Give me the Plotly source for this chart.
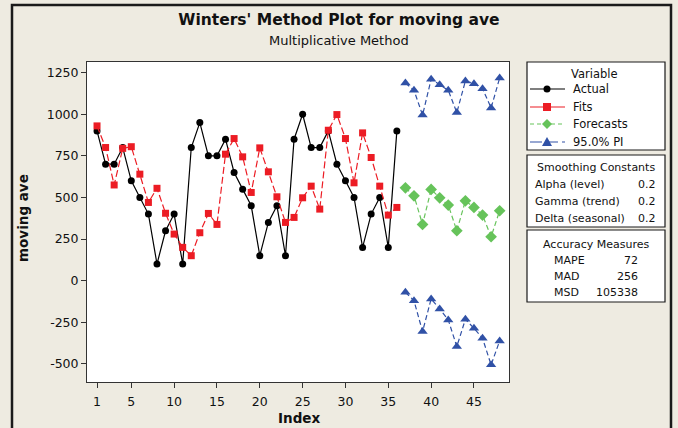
import plotly.graph_objects as go

# ---------------- data ----------------
fit_index = list(range(1, 37))
actual = [900, 700, 700, 800, 600, 500, 400, 100, 300, 400, 100, 800, 950, 750, 750,
          850, 650, 550, 450, 150, 350, 450, 150, 850, 1000, 800, 800, 900, 700, 600,
          500, 200, 400, 500, 200, 900]
fits = [930, 800, 575, 795, 805, 640, 470, 555, 405, 280, 200, 150, 288, 404, 338,
        760, 854, 744, 530, 798, 654, 504, 350, 380, 498, 568, 430, 904, 998, 854,
        588, 888, 740, 568, 394, 440]
fc_index = list(range(37, 49))
forecasts = [558, 510, 338, 548, 498, 454, 300, 480, 440, 394, 264, 420]
upper_pi = [1188, 1144, 995, 1210, 1178, 1144, 1010, 1200, 1184, 1154, 1038, 1218]
lower_pi = [-70, -120, -306, -110, -170, -236, -396, -232, -286, -346, -506, -362]

x_ticks = [1, 5, 10, 15, 20, 25, 30, 35, 40, 45]
y_ticks = [-500, -250, 0, 250, 500, 750, 1000, 1250]

legend_names = ["Actual", "Fits", "Forecasts", "95.0% PI"]
smoothing = [("Alpha (level)", "0.2"), ("Gamma (trend)", "0.2"), ("Delta (seasonal)", "0.2")]
accuracy = [("MAPE", "72"), ("MAD", "256"), ("MSD", "105338")]

# ---------------- style ----------------
FONT = "DejaVu Sans"
BG = "#EEEBE1"
RED = "#EC1C24"
GREEN = "#66C35A"
BLUE = "#3051A6"
TXT = "#111"

W_FIG, H_FIG = 678, 428
L, R, T, B = 87, 509, 62, 382
PW, PH = R - L, B - T


def px(x):
    return (x - L) / PW


def py(y):
    return (B - y) / PH


fig = go.Figure()
fig.add_trace(go.Scatter(x=fit_index, y=actual, name="Actual", mode="lines+markers",
                         line=dict(color="black", width=1.2),
                         marker=dict(symbol="circle", size=7, color="black")))
fig.add_trace(go.Scatter(x=fit_index, y=fits, name="Fits", mode="lines+markers",
                         line=dict(color=RED, width=1.2, dash="7px,3px"),
                         marker=dict(symbol="square", size=7, color=RED)))
fig.add_trace(go.Scatter(x=fc_index, y=forecasts, name="Forecasts", mode="lines+markers",
                         line=dict(color=GREEN, width=1.2, dash="5px,3px"),
                         marker=dict(symbol="diamond", size=9, color=GREEN)))
fig.add_trace(go.Scatter(x=fc_index, y=upper_pi, name="95.0% PI", mode="lines+markers",
                         legendgroup="pi",
                         line=dict(color=BLUE, width=1.2, dash="5px,3px"),
                         marker=dict(symbol="triangle-up", size=9, color=BLUE)))
fig.add_trace(go.Scatter(x=fc_index, y=lower_pi, name="95.0% PI", mode="lines+markers",
                         legendgroup="pi",
                         line=dict(color=BLUE, width=1.2, dash="5px,3px"),
                         marker=dict(symbol="triangle-up", size=9, color=BLUE)))

shapes = []
# outer frame
shapes.append(dict(type="rect", xref="paper", yref="paper",
                   x0=px(12), x1=px(671), y0=py(445), y1=py(5),
                   line=dict(color="#1a1a1a", width=2.5), fillcolor="rgba(0,0,0,0)", layer="below"))
# info boxes
for (y0, y1) in [(62, 150), (155, 227), (230, 302)]:
    shapes.append(dict(type="rect", xref="paper", yref="paper",
                       x0=px(527), x1=px(665), y0=py(y1), y1=py(y0),
                       line=dict(color="#1a1a1a", width=1.2), fillcolor="white", layer="below"))


def path_of(points):
    return "M " + " L ".join(f"{px(a):.5f},{py(b):.5f}" for a, b in points) + " Z"


# manual legend ("Variable" box)
leg_rows = [89, 107, 124, 142]
leg_styles = [("black", "solid", "circle"), (RED, "solid", "square"),
              (GREEN, "4px,3px", "diamond"), (BLUE, "12px,4px", "triangle")]
annotations = []
annotations.append(dict(text="Variable", xref="paper", yref="paper",
                        x=px(594), y=py(74), showarrow=False, xanchor="center", yanchor="middle",
                        font=dict(family=FONT, size=11.5, color=TXT)))
for yy, name, (col, dash, sym) in zip(leg_rows, legend_names, leg_styles):
    shapes.append(dict(type="line", xref="paper", yref="paper",
                       x0=px(530), x1=px(565), y0=py(yy), y1=py(yy),
                       line=dict(color=col, width=1.2, dash=dash)))
    cx = 547
    if sym == "circle":
        shapes.append(dict(type="circle", xref="paper", yref="paper",
                           x0=px(cx - 3.5), x1=px(cx + 3.5), y0=py(yy + 3.5), y1=py(yy - 3.5),
                           fillcolor=col, line=dict(color=col, width=0)))
    elif sym == "square":
        shapes.append(dict(type="rect", xref="paper", yref="paper",
                           x0=px(cx - 4), x1=px(cx + 4), y0=py(yy + 4), y1=py(yy - 4),
                           fillcolor=col, line=dict(color=col, width=0)))
    elif sym == "diamond":
        shapes.append(dict(type="path", xref="paper", yref="paper",
                           path=path_of([(cx, yy - 5), (cx + 5, yy), (cx, yy + 5), (cx - 5, yy)]),
                           fillcolor=col, line=dict(color=col, width=0)))
    else:
        shapes.append(dict(type="path", xref="paper", yref="paper",
                           path=path_of([(cx, yy - 5), (cx + 5, yy + 4), (cx - 5, yy + 4)]),
                           fillcolor=col, line=dict(color=col, width=0)))
    annotations.append(dict(text=name, xref="paper", yref="paper", x=px(571), y=py(yy),
                            showarrow=False, xanchor="left", yanchor="middle",
                            font=dict(family=FONT, size=11.5, color=TXT)))

annotations.append(dict(text="Multiplicative Method", xref="paper", yref="paper",
                        x=px(339), y=py(41), showarrow=False, xanchor="center", yanchor="middle",
                        font=dict(family=FONT, size=13, color=TXT)))
annotations.append(dict(text="Smoothing Constants", xref="paper", yref="paper",
                        x=px(596), y=py(167), showarrow=False, xanchor="center", yanchor="middle",
                        font=dict(family=FONT, size=11, color=TXT)))
for i, (lab, val) in enumerate(smoothing):
    yy = [184, 201, 218][i]
    annotations.append(dict(text=lab, xref="paper", yref="paper", x=px(533), y=py(yy),
                            showarrow=False, xanchor="left", yanchor="middle",
                            font=dict(family=FONT, size=11, color=TXT)))
    annotations.append(dict(text=val, xref="paper", yref="paper", x=px(658), y=py(yy),
                            showarrow=False, xanchor="right", yanchor="middle",
                            font=dict(family=FONT, size=11, color=TXT)))
annotations.append(dict(text="Accuracy Measures", xref="paper", yref="paper",
                        x=px(596), y=py(244), showarrow=False, xanchor="center", yanchor="middle",
                        font=dict(family=FONT, size=11, color=TXT)))
for i, (lab, val) in enumerate(accuracy):
    yy = [260, 276, 292][i]
    annotations.append(dict(text=lab, xref="paper", yref="paper", x=px(552), y=py(yy),
                            showarrow=False, xanchor="left", yanchor="middle",
                            font=dict(family=FONT, size=11, color=TXT)))
    annotations.append(dict(text=val, xref="paper", yref="paper", x=px(640), y=py(yy),
                            showarrow=False, xanchor="right", yanchor="middle",
                            font=dict(family=FONT, size=11, color=TXT)))

# axis titles as annotations for exact placement
annotations.append(dict(text="<b>Index</b>", xref="paper", yref="paper",
                        x=px(299), y=py(418), showarrow=False, xanchor="center", yanchor="middle",
                        font=dict(family=FONT, size=13.5, color=TXT)))
annotations.append(dict(text="<b>moving ave</b>", xref="paper", yref="paper",
                        x=px(23), y=py(218), showarrow=False, xanchor="center", yanchor="middle",
                        textangle=-90, font=dict(family=FONT, size=13.5, color=TXT)))

fig.update_layout(
    width=W_FIG, height=H_FIG,
    margin=dict(l=L, r=W_FIG - R, t=T, b=H_FIG - B, pad=0, autoexpand=False),
    paper_bgcolor=BG, plot_bgcolor="white",
    font=dict(family=FONT, size=12, color=TXT),
    showlegend=False,
    title=dict(text="<b>Winters' Method Plot for moving ave</b>",
               x=0.5, xref="container", xanchor="center",
               y=1 - 20 / H_FIG, yref="container", yanchor="middle",
               font=dict(family=FONT, size=15.5, color=TXT)),
    xaxis=dict(range=[-0.17, 49.09], tickmode="array", tickvals=x_ticks,
               ticktext=[str(v) for v in x_ticks], automargin=False,
               showgrid=False, zeroline=False, showline=True, linecolor="#333", linewidth=1,
               mirror=True, ticks="outside", ticklen=5, tickcolor="#333",
               ticklabelstandoff=3,
               tickfont=dict(family=FONT, size=12.5, color=TXT)),
    yaxis=dict(range=[-609, 1314], tickmode="array", tickvals=y_ticks,
               ticktext=[str(v) for v in y_ticks], automargin=False,
               showgrid=False, zeroline=False, showline=True, linecolor="#333", linewidth=1,
               mirror=True, ticks="outside", ticklen=5, tickcolor="#333",
               tickfont=dict(family=FONT, size=12.5, color=TXT)),
    shapes=shapes, annotations=annotations,
)

fig.write_html("out.html")
